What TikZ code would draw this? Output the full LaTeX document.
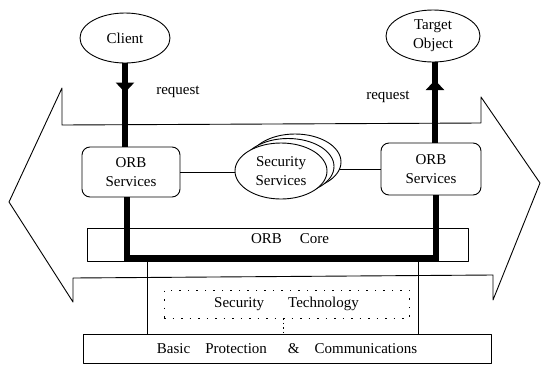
\documentclass[tikz,border=0pt]{standalone}
\usepackage{fontspec}
\setmainfont{Liberation Serif}
\usetikzlibrary{shapes.geometric,arrows.meta,decorations.markings}
\begin{document}
\begin{tikzpicture}[x=1pt,y=-1pt,line join=round,
  txt/.style={font=\fontsize{15}{19}\selectfont},
  thinline/.style={line width=0.9pt},
  oval/.style={ellipse,draw,line width=0.9pt,fill=white,inner sep=0pt,
    align=center,txt},
  orbbox/.style={draw,line width=0.9pt,fill=white,rounded corners=8pt,
    inner sep=0pt,align=center,txt},
  layer/.style={draw,line width=0.9pt,fill=white,inner sep=0pt,txt},
  dotbox/.style={draw,line width=0.9pt,dash pattern=on 1.5pt off 7pt,
    inner sep=0pt,txt},
  bus/.style={line width=6pt,line join=miter},
  midarrow/.style={postaction={decorate},decoration={markings,
    mark=at position #1 with {\arrow{Triangle[width=18pt,length=10pt]}}}}]
\useasboundingbox (0,0) rectangle (542,365);

% double-headed arrow framing the middleware layer
\draw[thinline] (62,125) -- (62,88) -- (9,202) -- (73,302) -- (73,278)
  -- (493,275) -- (493,300) -- (540,183) -- (481,97) -- (481,123) -- cycle;

% end points
\node[oval,minimum width=90pt,minimum height=50pt] (client) at (125,38) {Client};
\node[oval,minimum width=94pt,minimum height=52pt] (target) at (433,36) {Target\\Object};

% ORB services
\node[orbbox,minimum width=98pt,minimum height=50pt] (lorb) at (131,172) {ORB\\Services};
\node[orbbox,minimum width=100pt,minimum height=52pt] (rorb) at (431,169) {ORB\\Services};

% links to the security services stack
\draw[thinline] (lorb.east) -- (lorb.east -| 281,0);
\draw[thinline] (rorb.west) -- (rorb.west -| 281,0);
\node[oval,minimum width=92pt,minimum height=56pt] (secs3) at (295,162) {};
\node[oval,minimum width=92pt,minimum height=56pt] (secs2) at (288,166.5) {};
\node[oval,minimum width=92pt,minimum height=56pt] (secs) at (281,171) {Security\\Services};

% layers
\node[layer,minimum width=381pt,minimum height=33pt] (core) at (277.5,244.5) {};
\node[txt] (coretxt) at (290,239) {ORB\hspace{18pt}Core};
\node[layer,minimum width=408pt,minimum height=29pt] (basic) at (287,348.5)
  {Basic\hspace{15pt}Protection\hspace{21pt}\&\hspace{15pt}Communications};
\node[dotbox,minimum width=245pt,minimum height=28pt] (sectech) at (286.5,304)
  {Security\hspace{24pt}Technology};

% taps from the core down to the basic layer
\coordinate (tapL) at (147,0);
\coordinate (tapR) at (418,0);
\coordinate (tapM) at (283,0);
\draw[thinline] (core.south -| tapL) -- (basic.north -| tapL);
\draw[thinline] (core.south -| tapR) -- (basic.north -| tapR);
\draw[thinline,dash pattern=on 1.5pt off 3pt] (sectech.south -| tapM) -- (basic.north -| tapM);

% request path through the ORB
\draw[bus,midarrow=0.35] (client.south) -- (client.south |- lorb.north);
\draw[bus,midarrow=0.78] (rorb.north -| 435,0) -- (target.south -| 435,0);
\coordinate (busL) at (127,258);
\coordinate (busR) at (436,258);
\draw[bus] (lorb.south -| busL) -- (busL) -- (busR) -- (rorb.south -| busR);

\node[txt] (req1) at (178,92) {request};
\node[txt] (req2) at (388,97) {request};
\end{tikzpicture}
\end{document}
